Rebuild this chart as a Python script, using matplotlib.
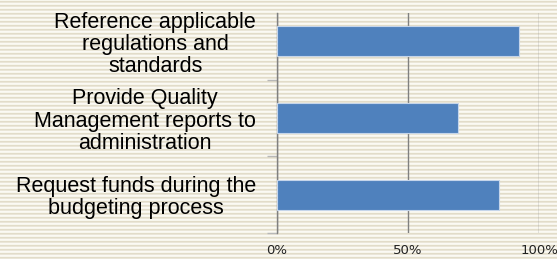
import numpy as np
import matplotlib
matplotlib.use('Agg')
import matplotlib.pyplot as plt
from matplotlib.ticker import FuncFormatter

# Data (bottom to top)
categories = [
    'Request funds during the\nbudgeting process',
    'Provide Quality\nManagement reports to\nadministration',
    'Reference applicable\nregulations and\nstandards',
]
values = [84.7, 69.0, 92.4]
x_ticks = [0, 50, 100]

W, H = 557, 259
fig = plt.figure(figsize=(W / 100, H / 100), dpi=100)

# Striped beige background
bg_ax = fig.add_axes([0, 0, 1, 1])
stripe = np.array([[0.97, 0.965, 0.93], [0.89, 0.865, 0.79],
                   [0.92, 0.905, 0.85], [0.985, 0.98, 0.96]])
rows = np.tile(stripe, (H // 4 + 1, 1))[:H]
img = np.repeat(rows[:, None, :], W, axis=1)
bg_ax.imshow(img, aspect='auto', interpolation='nearest')
bg_ax.axis('off')

left, right = 277 / W, 539 / W
top, bottom = 1 - 13 / H, 1 - 233 / H
ax = fig.add_axes([left, bottom, right - left, top - bottom])
ax.patch.set_alpha(0)

y = np.arange(len(categories))
ax.barh(y, values, height=0.39, color='#4f81bd', edgecolor='#c5d5ea',
        linewidth=0.8, zorder=3)

ax.set_xlim(0, 100)
ax.set_ylim(-0.494, 2.37)
ax.set_xticks(x_ticks)
ax.xaxis.set_major_formatter(FuncFormatter(lambda v, p: f'{v:.0f}%'))
ax.grid(axis='x', color='#808080', linewidth=1.0, zorder=1)
ax.tick_params(axis='x', length=0, pad=8, labelsize=9.5, labelcolor='#222222')

# category labels, boundary ticks on the y axis
ax.set_yticks([-0.5, 0.5, 1.5], minor=False)
ax.set_yticklabels([])
ax.tick_params(axis='y', which='major', length=7, color='#b8b8b8', width=1)
ax.set_yticks(y, minor=True)
ax.set_yticklabels(categories, minor=True, fontsize=15.5,
                   family='Liberation Sans', multialignment='center',
                   linespacing=1.08)
ax.tick_params(axis='y', which='minor', length=0, pad=15)

for s in ['top', 'right', 'bottom']:
    ax.spines[s].set_visible(False)
ax.spines['left'].set_color('#808080')
ax.spines['left'].set_linewidth(1.0)

fig.savefig('out.png', dpi=100)
